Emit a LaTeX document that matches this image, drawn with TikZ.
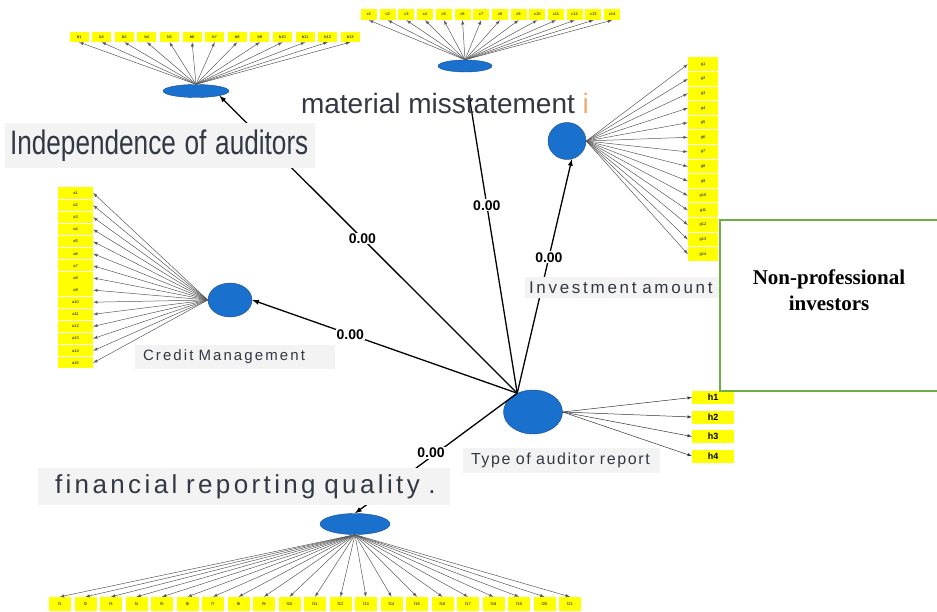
\documentclass[tikz,border=0pt]{standalone}
\usepackage{fontspec}
\setmainfont{Liberation Serif}
\setsansfont{Liberation Sans}
\newfontfamily\tagfont{Liberation Sans}
\usetikzlibrary{shapes.geometric}
\tikzset{>=latex}
\definecolor{lvblue}{RGB}{26,112,205}
\definecolor{lvedge}{RGB}{25,75,145}
\definecolor{itemyellow}{RGB}{255,255,0}
\definecolor{boxgreen}{RGB}{112,173,71}
\definecolor{tagbg}{RGB}{243,243,243}
\definecolor{tagtext}{RGB}{50,56,68}
\definecolor{lastletter}{RGB}{240,170,110}

\begin{document}
\begin{tikzpicture}[x=1pt,y=-1pt]
      \tikzstyle{latent}=[ellipse,draw=lvedge,fill=lvblue,inner sep=0pt];
      \tikzstyle{item}=[fill=itemyellow,inner sep=0pt,font=\sffamily\fontsize{4}{4}\selectfont];
      \tikzstyle{load}=[->,draw=black!65,line width=.5pt];
      \tikzstyle{path}=[->,line width=1.3pt];
      \tikzstyle{tag}=[fill=tagbg,text=tagtext,inner xsep=8pt,inner ysep=0pt,align=left];
      \tikzstyle{coef}=[fill=white,inner sep=1pt,font=\sffamily\bfseries\fontsize{14}{14}\selectfont];
      \useasboundingbox (0,0) rectangle (937,612);

      % latent variables
      \node[latent,minimum width=66,minimum height=13] (indep) at (196,91) {};
      \node[latent,minimum width=54,minimum height=12] (mis) at (465,66) {};
      \node[latent,minimum width=38,minimum height=37] (inv) at (567,141) {};
      \node[latent,minimum width=44,minimum height=34] (credit) at (230,300) {};
      \node[latent,minimum width=59,minimum height=44] (type) at (533,412) {};
      \node[latent,minimum width=70,minimum height=21] (frq) at (355,524) {};

      % indicators
      \foreach \i in {1,...,13} {
        \node[item,minimum width=19,minimum height=10] (b\i) at ({56.5+22.6*\i},37) {b\i};
        \draw[load] (indep.north) -- (b\i.south);
      }
      \foreach \i in {1,...,14} {
        \node[item,minimum width=16,minimum height=11] (c\i) at ({350.3+18.7*\i},14.5) {c\i};
        \draw[load] (mis.north) -- (c\i.south);
      }
      \foreach \i in {1,...,14} {
        \node[item,minimum width=30,minimum height=13.6] (g\i) at (703,{49.7+14.6*\i}) {g\i};
        \draw[load] (inv.east) -- (g\i.west);
      }
      \foreach \i in {1,...,15} {
        \node[item,minimum width=35,minimum height=11.2] (a\i) at (75.5,{180.9+12.13*\i}) {a\i};
        \draw[load] (credit.west) -- (a\i.east);
      }
      \foreach \i in {1,...,21} {
        \node[item,minimum width=22,minimum height=14] (f\i) at ({34.5+25.5*\i},604) {f\i};
        \draw[load] (frq.south) -- (f\i.north);
      }
      \foreach \i in {1,...,4} {
        \node[item,minimum width=42,minimum height=13,font=\sffamily\bfseries\fontsize{9}{9}\selectfont] (h\i) at (713,{378+19.5*\i}) {h\i};
        \draw[load,draw=black!80] (type.east) -- (h\i.west);
      }

      % structural paths
      \coordinate (mistip) at (469,95);
      \draw[path] (type.130) -- (indep.south east) node[coef,pos=.52]{0.00};
      \draw[path] (type.130) -- (mistip) node[coef,pos=.63]{0.00};
      \draw[path] (type.130) -- (inv.-75) node[coef,pos=.58]{0.00};
      \draw[path] (type.130) -- (credit.east) node[coef,pos=.63]{0.00};
      \draw[path] (type.130) -- (frq.north);

      % construct names
      \node[tag,inner xsep=5pt,text width=300,minimum height=45,font=\tagfont\fontsize{34}{34}\selectfont] (indeptag) at (160,145.5) {\scalebox{0.77}[1]{Independence of auditors}};
      \node[text=tagtext,inner sep=0pt,font=\sffamily\fontsize{28}{28}\selectfont] (mistag) at (445,103) {material misstatement \textcolor{lastletter}{i}};
      \node[tag,text width=184,minimum height=24,font=\tagfont\addfontfeature{LetterSpace=14}\fontsize{15}{15}\selectfont] (credittag) at (235,357) {Credit Management};
      \node[tag,text width=181,minimum height=25,font=\tagfont\addfontfeature{LetterSpace=10}\fontsize{16}{16}\selectfont] (typetag) at (561.5,460.5) {Type of auditor report};
      \node[tag,inner xsep=4pt,text width=186,minimum height=21,font=\tagfont\addfontfeature{LetterSpace=16}\fontsize{17}{17}\selectfont] (invtag) at (622,287.5) {Investment amount};
      \node[tag,inner xsep=17pt,text width=378,minimum height=37,font=\tagfont\addfontfeature{LetterSpace=13}\fontsize{26}{26}\selectfont] (frqtag) at (244,486.5) {\mbox{financial reporting quality .}};
      \node[coef] at (431,453) {0.00};

      % group box
      \node[draw=boxgreen,line width=2pt,fill=white,minimum width=218,minimum height=171,anchor=north west] (nonpro) at (719,219) {};
      \node[align=center,font=\bfseries\fontsize{21}{26}\selectfont] (nonprotext) at ([yshift=15.5pt]nonpro.center) {Non-professional\\investors};
\end{tikzpicture}
\end{document}
